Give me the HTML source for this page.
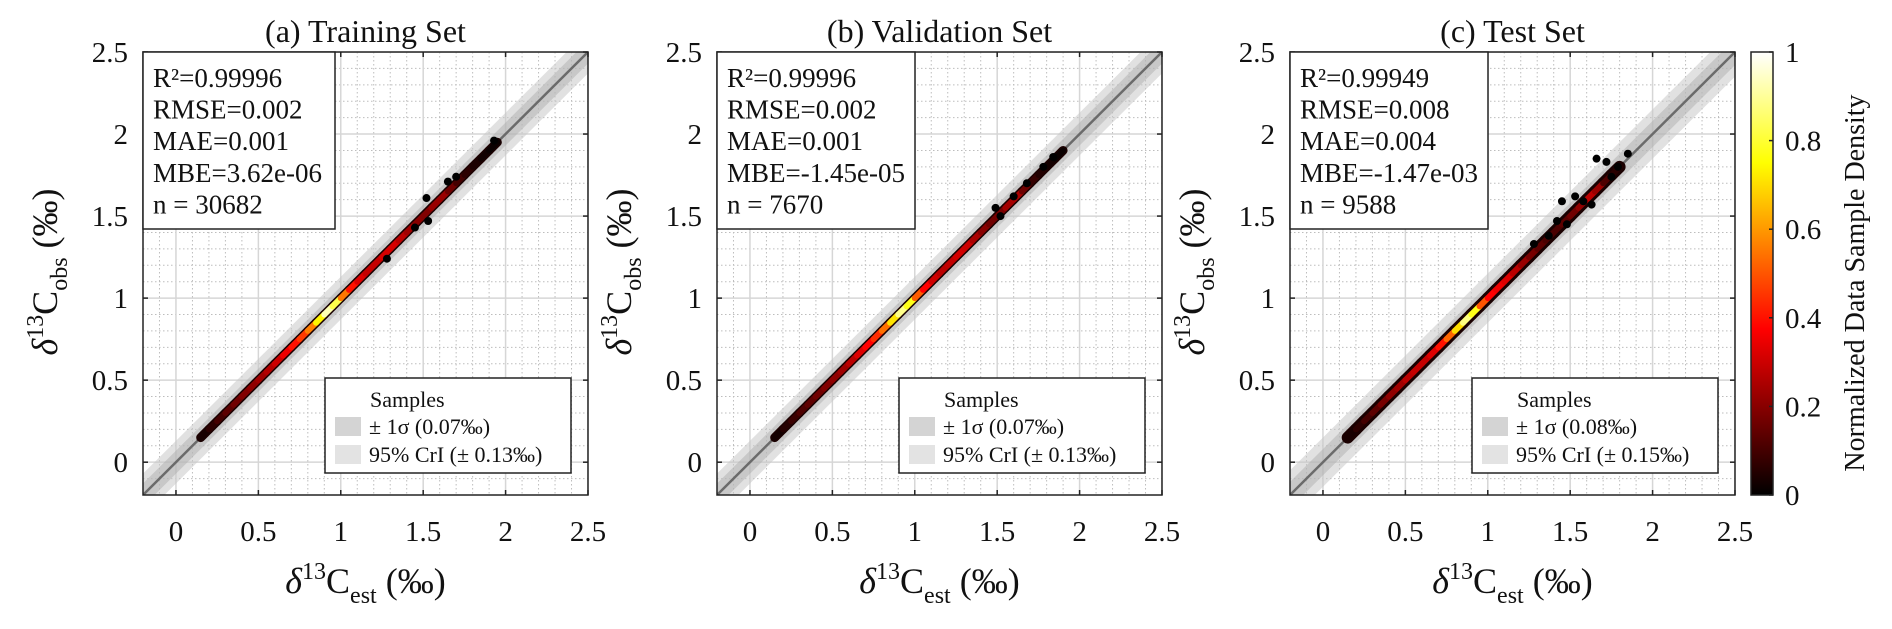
<!DOCTYPE html>
<html><head><meta charset="utf-8">
<style>
html,body{margin:0;padding:0;background:#fff;}
svg{display:block;}
svg text{font-family:"Liberation Serif","Times New Roman",Times,"DejaVu Serif",serif;}
</style></head>
<body>
<svg id="fig" width="1892" height="629" viewBox="0 0 1892 629" xmlns="http://www.w3.org/2000/svg">
<defs>
<linearGradient id="hot" x1="0" y1="1" x2="0" y2="0">
<stop offset="0" stop-color="#000"/><stop offset="0.375" stop-color="#f00"/><stop offset="0.75" stop-color="#ff0"/><stop offset="1" stop-color="#fff"/>
</linearGradient>
</defs>
</svg>
<script>
// ---- data ----
const panelTitles = ["(a) Training Set", "(b) Validation Set", "(c) Test Set"];
const tickValues = [0, 0.5, 1, 1.5, 2, 2.5];
const tickLabels = ["0", "0.5", "1", "1.5", "2", "2.5"];
const cbTicks = [0, 0.2, 0.4, 0.6, 0.8, 1];
const cbLabels = ["0", "0.2", "0.4", "0.6", "0.8", "1"];
const statsA = ["R²=0.99996", "RMSE=0.002", "MAE=0.001", "MBE=3.62e-06", "n = 30682"];
const statsB = ["R²=0.99996", "RMSE=0.002", "MAE=0.001", "MBE=-1.45e-05", "n = 7670"];
const statsC = ["R²=0.99949", "RMSE=0.008", "MAE=0.004", "MBE=-1.47e-03", "n = 9588"];
const sigmaBand = [0.07, 0.07, 0.08];
const criBand = [0.13, 0.13, 0.15];
const sigmaLabels = ["± 1σ (0.07‰)", "± 1σ (0.07‰)", "± 1σ (0.08‰)"];
const criLabels = ["95% CrI (± 0.13‰)", "95% CrI (± 0.13‰)", "95% CrI (± 0.15‰)"];
const traceA_x = [0.15,0.2,0.25,0.3,0.35,0.4,0.45,0.5,0.55,0.6,0.65,0.7,0.75,0.8,0.85,0.9,0.95,1.0,1.05,1.1,1.15,1.2,1.25,1.3,1.35,1.4,1.45,1.5,1.55,1.6,1.65,1.7,1.75,1.8,1.85,1.9,1.95];
const traceA_d = [0.02,0.05,0.08,0.12,0.15,0.18,0.2,0.22,0.25,0.28,0.32,0.38,0.42,0.5,0.62,0.85,1.0,0.65,0.45,0.35,0.3,0.28,0.3,0.33,0.3,0.25,0.22,0.18,0.2,0.25,0.2,0.12,0.08,0.05,0.03,0.02,0.01];
const traceB_x = [0.15,0.2,0.25,0.3,0.35,0.4,0.45,0.5,0.55,0.6,0.65,0.7,0.75,0.8,0.85,0.9,0.95,1.0,1.05,1.1,1.15,1.2,1.25,1.3,1.35,1.4,1.45,1.5,1.55,1.6,1.65,1.7,1.75,1.8,1.85,1.9];
const traceB_d = [0.02,0.04,0.07,0.1,0.13,0.15,0.18,0.2,0.22,0.25,0.3,0.35,0.4,0.48,0.6,0.82,0.95,0.6,0.42,0.33,0.28,0.27,0.3,0.32,0.28,0.22,0.18,0.15,0.2,0.28,0.22,0.1,0.06,0.04,0.02,0.01];
const traceC_x = [0.15,0.2,0.25,0.3,0.35,0.4,0.45,0.5,0.55,0.6,0.65,0.7,0.75,0.8,0.85,0.9,0.95,1.0,1.05,1.1,1.15,1.2,1.25,1.3,1.35,1.4,1.45,1.5,1.55,1.6,1.65,1.7,1.75,1.8];
const traceC_d = [0.02,0.05,0.08,0.12,0.15,0.2,0.22,0.25,0.3,0.28,0.3,0.35,0.45,0.6,0.8,0.95,0.6,0.4,0.35,0.35,0.3,0.25,0.2,0.15,0.12,0.1,0.12,0.15,0.18,0.25,0.3,0.15,0.08,0.04];
const outA_x = [1.52,1.53,1.28,1.65,1.93,1.45,1.7];
const outA_y = [1.61,1.47,1.24,1.71,1.96,1.43,1.74];
const outB_x = [1.49,1.52,1.6,1.68,1.84,1.78];
const outB_y = [1.55,1.5,1.62,1.7,1.86,1.80];
const outC_x = [1.45,1.48,1.66,1.72,1.85,1.37,1.28,1.58,1.63,1.79,1.53,1.42,1.75];
const outC_y = [1.59,1.45,1.85,1.83,1.88,1.38,1.33,1.59,1.57,1.80,1.62,1.47,1.74];

const NS = "http://www.w3.org/2000/svg";
const svg = document.getElementById('fig');
const lefts = [143, 717, 1290];
const TOP = 52, BOT = 495, W = 445, VMIN = -0.2, VMAX = 2.5;
const SERIF = '"Liberation Serif", "Times New Roman", Times, "DejaVu Serif", serif';
function mk(tag, attrs, parent){const e=document.createElementNS(NS,tag);for(const k in attrs)e.setAttribute(k,attrs[k]);if(tag==='text')e.style.fontFamily=SERIF;(parent||svg).appendChild(e);return e;}
function hot(d){d=Math.max(0,Math.min(1,d));let r,g,b;
 if(d<0.375){r=d/0.375;g=0;b=0;}else if(d<0.75){r=1;g=(d-0.375)/0.375;b=0;}else{r=1;g=1;b=(d-0.75)/0.25;}
 return `rgb(${Math.round(r*255)},${Math.round(g*255)},${Math.round(b*255)})`;}

const traces = [[traceA_x,traceA_d],[traceB_x,traceB_d],[traceC_x,traceC_d]];
const outs = [[outA_x,outA_y],[outB_x,outB_y],[outC_x,outC_y]];
const stats = [statsA, statsB, statsC];

for (let p=0;p<3;p++){
  const L = lefts[p], R = L+W;
  const sx = v => L + (v-VMIN)/(VMAX-VMIN)*W;
  const sy = v => BOT - (v-VMIN)/(VMAX-VMIN)*(BOT-TOP);
  const g = mk('g',{});
  
  
  const clipId = 'clip'+p;
  const cp = mk('clipPath',{id:clipId},g); mk('rect',{x:L,y:TOP,width:W,height:BOT-TOP},cp);
  const pg = mk('g',{'clip-path':`url(#${clipId})`},g);
  
  
  for (let i=-2;i<=25;i++){ const v=i/10; if (i%5===0) continue;
    mk('line',{x1:sx(v),x2:sx(v),y1:TOP,y2:BOT,stroke:'#bdbdbd','stroke-width':1,'stroke-dasharray':'1.5,2.5'},pg);
    mk('line',{x1:L,x2:R,y1:sy(v),y2:sy(v),stroke:'#bdbdbd','stroke-width':1,'stroke-dasharray':'1.5,2.5'},pg);
  }
  for (const v of tickValues){
    mk('line',{x1:sx(v),x2:sx(v),y1:TOP,y2:BOT,stroke:'#d6d6d6','stroke-width':1.5},pg);
    mk('line',{x1:L,x2:R,y1:sy(v),y2:sy(v),stroke:'#d6d6d6','stroke-width':1.5},pg);
  }
  const band = (w,fill,name)=>{const e=mk('polygon',{points:`${sx(VMIN)},${sy(VMIN+w)} ${sx(VMAX)},${sy(VMAX+w)} ${sx(VMAX)},${sy(VMAX-w)} ${sx(VMIN)},${sy(VMIN-w)}`,fill:fill},pg);
     };
  band(criBand[p],'rgba(200,200,200,0.55)','cri-band');
  band(sigmaBand[p],'rgba(170,170,170,0.45)','sigma-band');
  const ol = mk('line',{x1:sx(VMIN),y1:sy(VMIN),x2:sx(VMAX),y2:sy(VMAX),stroke:'#6b6b6b','stroke-width':2.5},pg);
   
  const [tx,td] = traces[p];
  const hw = p===2 ? 12 : 9;
  for (let i=0;i<tx.length-1;i++){
    mk('line',{x1:sx(tx[i]),y1:sy(tx[i]),x2:sx(tx[i+1]),y2:sy(tx[i+1]),stroke:'#1a0000','stroke-width':hw,'stroke-linecap':'round'},pg);
  }
  for (let i=0;i<tx.length-1;i++){
    const s = mk('line',{x1:sx(tx[i]),y1:sy(tx[i]),x2:sx(tx[i+1]),y2:sy(tx[i+1]),stroke:hot((td[i]+td[i+1])/2),'stroke-width':6,'stroke-linecap':'round'},pg);
     
  }
  const [ox,oy] = outs[p];
  for (let i=0;i<ox.length;i++){
    const c = mk('circle',{cx:sx(ox[i]),cy:sy(oy[i]),r:4,fill:'#000'},pg);
     
  }
  const ax = mk('rect',{x:L,y:TOP,width:W,height:BOT-TOP,fill:'none',stroke:'#222','stroke-width':1.5},g);
   
  for (let i=0;i<tickValues.length;i++){
    const v=tickValues[i];
    mk('line',{x1:sx(v),x2:sx(v),y1:BOT,y2:BOT-5,stroke:'#222','stroke-width':1.5},g);
    mk('line',{x1:sx(v),x2:sx(v),y1:TOP,y2:TOP+5,stroke:'#222','stroke-width':1.5},g);
    mk('line',{x1:L,x2:L+5,y1:sy(v),y2:sy(v),stroke:'#222','stroke-width':1.5},g);
    mk('line',{x1:R,x2:R-5,y1:sy(v),y2:sy(v),stroke:'#222','stroke-width':1.5},g);
    const xt = mk('text',{x:sx(v),y:541,'font-size':29,'text-anchor':'middle',fill:'#111'},g); xt.textContent=tickLabels[i];
     
    const yt = mk('text',{x:L-15,y:sy(v)+10,'font-size':29,'text-anchor':'end',fill:'#111'},g); yt.textContent=tickLabels[i];
     
  }
  const t = mk('text',{x:L+W/2,y:42,'font-size':32,'text-anchor':'middle',fill:'#111'},g); t.textContent=panelTitles[p];
   
  const sw = p===0 ? 192 : 198;
  const sb = mk('rect',{x:L,y:TOP,width:sw,height:177,fill:'#fff',stroke:'#222','stroke-width':1.5},g);
   
  stats[p].forEach((s,i)=>{const e=mk('text',{x:L+10,y:87+i*31.6,'font-size':27,fill:'#111'},g);e.textContent=s;
     });
  const lg = mk('g',{},g);  
  const lx = R-263, ly = 378;
  mk('rect',{x:lx,y:ly,width:246,height:95,fill:'#fff',stroke:'#222','stroke-width':1.5},lg);
  const l1=mk('text',{x:lx+45,y:ly+29,'font-size':22,fill:'#111'},lg); l1.textContent='Samples';
   
  mk('rect',{x:lx+10,y:ly+39,width:26,height:19,fill:'#d4d4d4'},lg);
  const l2=mk('text',{x:lx+44,y:ly+56,'font-size':22,fill:'#111'},lg); l2.textContent=sigmaLabels[p];
   
  mk('rect',{x:lx+10,y:ly+67,width:26,height:19,fill:'#e3e3e3'},lg);
  const l3=mk('text',{x:lx+44,y:ly+84,'font-size':22,fill:'#111'},lg); l3.textContent=criLabels[p];
   
  const xl = mk('text',{x:L+W/2,y:593,'font-size':36,'text-anchor':'middle',fill:'#111'},g);
  xl.innerHTML = '<tspan font-style="italic">δ</tspan><tspan font-size="24" dy="-14">13</tspan><tspan dy="14">C</tspan><tspan font-size="24" dy="10">est</tspan><tspan dy="-10"> (‰)</tspan>';
   
  const yx = L-86, yy = 272;
  const yl = mk('text',{x:yx,y:yy,'font-size':36,'text-anchor':'middle',fill:'#111',transform:`rotate(-90 ${yx} ${yy})`},g);
  yl.innerHTML = '<tspan font-style="italic">δ</tspan><tspan font-size="24" dy="-14">13</tspan><tspan dy="14">C</tspan><tspan font-size="24" dy="10">obs</tspan><tspan dy="-10"> (‰)</tspan>';
   
}
const cb = mk('g',{});  
const CBL=1751, CBW=22;
mk('rect',{x:CBL,y:TOP,width:CBW,height:BOT-TOP,fill:'url(#hot)',stroke:'#222','stroke-width':1.5},cb);
const cy = v => BOT - v*(BOT-TOP);
cbTicks.forEach((v,i)=>{
  mk('line',{x1:CBL+CBW-4,x2:CBL+CBW,y1:cy(v),y2:cy(v),stroke:'#222','stroke-width':1.5},cb);
  const e=mk('text',{x:1785,y:cy(v)+10,'font-size':29,fill:'#111'},cb); e.textContent=cbLabels[i];
   
});
const cbt = mk('text',{x:1864,y:283,'font-size':28,'text-anchor':'middle',fill:'#111',transform:'rotate(-90 1864 283)'},cb);
cbt.textContent='Normalized Data Sample Density';
 
</script>
</body></html>
